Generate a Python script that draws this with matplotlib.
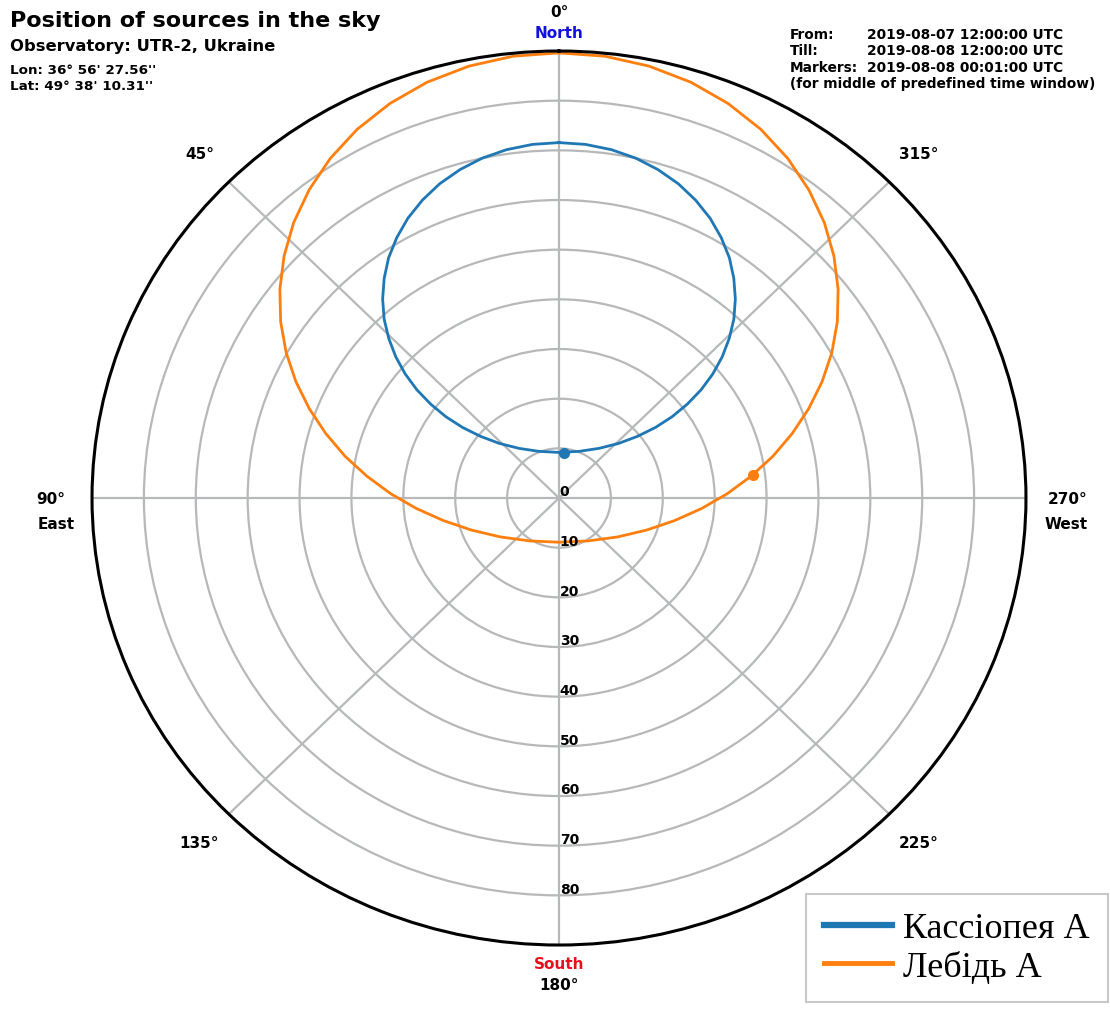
import numpy as np
import matplotlib.pyplot as plt
from matplotlib.lines import Line2D

# Source tracks over the day: azimuth (deg from North, East positive) and zenith distance (deg)
cas_az = [0, 4.1, 8.2, 12.2, 16.1, 20.0, 23.7, 27.35, 30.8, 34.2, 37.3, 40.3, 43.1, 45.6, 47.9, 49.9,
          51.5, 52.6, 53.1, 52.6, 50.6, 46.3, 37.7, 22.5, 0,
          -22.5, -37.7, -46.3, -50.6, -52.6, -53.1, -52.6, -51.5, -49.9, -47.9, -45.6, -43.1, -40.3,
          -37.3, -34.2, -30.8, -27.35, -23.7, -20.0, -16.1, -12.2, -8.2, -4.1, 0]
cas_zd = [71.56, 71.38, 70.86, 70.01, 68.82, 67.31, 65.50, 63.41, 61.05, 58.44, 55.60, 52.55, 49.32, 45.92, 42.39, 38.72,
          34.98, 31.13, 27.25, 23.38, 19.56, 15.92, 12.64, 10.17, 9.18,
          10.17, 12.64, 15.92, 19.56, 23.38, 27.25, 31.13, 34.98, 38.72, 42.39, 45.92, 49.32, 52.55,
          55.60, 58.44, 61.05, 63.41, 65.50, 67.31, 68.82, 70.01, 70.86, 71.38, 71.56]

cyg_az = [0, 5.7, 11.3, 16.9, 22.3, 27.65, 32.8, 37.8, 42.7, 47.4, 52.0, 56.5, 60.9, 65.2, 69.5, 73.9,
          78.5, 83.25, 88.5, 94.4, 101.5, 110.9, 124.6, 146.6, 180,
          213.4, 235.4, 249.1, 258.5, 265.6, 271.5, 276.75, 281.5, 286.1, 290.5, 294.8, 299.1, 303.5,
          308.0, 312.6, 317.3, 322.2, 327.2, 332.35, 337.7, 343.1, 348.7, 354.3, 360]
cyg_zd = [89.63, 89.39, 88.67, 87.49, 85.86, 83.81, 81.36, 78.55, 75.42, 71.98, 68.27, 64.33, 60.18, 55.86, 51.38, 46.77,
          42.05, 37.26, 32.41, 27.56, 22.75, 18.08, 13.78, 10.34, 8.90,
          10.34, 13.78, 18.08, 22.75, 27.56, 32.41, 37.26, 42.05, 46.77, 51.38, 55.86, 60.18, 64.33,
          68.27, 71.98, 75.42, 78.55, 81.36, 83.81, 85.86, 87.49, 88.67, 89.39, 89.63]

# positions at the marker time
marker_az = [-6.5, 277.1]
marker_zd = [9.2, 37.6]

source_names = ['Кассіопея А', 'Лебідь А']
source_colors = ['tab:blue', 'tab:orange']

angle_ticks = [0, 45, 90, 135, 180, 225, 270, 315]
radial_ticks = [10, 20, 30, 40, 50, 60, 70, 80]
radial_labels = ['0', '10', '20', '30', '40', '50', '60', '70', '80']

W, H = 1110, 1012
fig = plt.figure(figsize=(W / 100, H / 100), dpi=100)
ax = fig.add_axes([0.0829, 0.0652, 0.8414, 0.8834], projection='polar')
ax.set_aspect('auto')
ax.set_theta_zero_location('N')
ax.set_theta_direction(1)
ax.set_rlim(0, 90)

ax.set_xticks(np.radians(angle_ticks))
ax.set_xticklabels([])
ax.set_rgrids(radial_ticks, labels=[])
ax.grid(True, color='#b6b8ba', linewidth=1.6)
ax.spines['polar'].set_linewidth(2.2)
ax.spines['polar'].set_color('black')

# tracks and markers
ax.plot(np.radians(cas_az), cas_zd, color=source_colors[0], lw=2)
ax.plot(np.radians(cyg_az), cyg_zd, color=source_colors[1], lw=2)
for az, zd, c in zip(marker_az, marker_zd, source_colors):
    ax.plot(np.radians(az), zd, 'o', color=c, ms=7)

# azimuth labels
for a in angle_ticks:
    ax.text(np.radians(a), 98, f'{a}°', ha='center', va='center',
            fontsize=11, fontweight='bold', clip_on=False)
ax.text(0, 93.8, 'North', ha='center', va='center', fontsize=11,
        fontweight='bold', color='#1010e0', clip_on=False)
ax.text(np.pi, 93.8, 'South', ha='center', va='center', fontsize=11,
        fontweight='bold', color='#e8101c', clip_on=False)
for a, name, dx in [(90, 'East', 4), (270, 'West', -1)]:
    ax.annotate(name, xy=(np.radians(a), 98), xytext=(dx, -18), textcoords='offset points',
                ha='center', va='center', fontsize=11, fontweight='bold', annotation_clip=False)

# zenith distance labels along the south direction
for r, lab in zip([0] + radial_ticks, radial_labels):
    ax.annotate(lab, xy=(np.pi, r), xytext=(0.5, 2), textcoords='offset points',
                ha='left', va='baseline', fontsize=10, fontweight='bold', annotation_clip=False)

def px_text(x, y, s, **kw):
    fig.text(x / W, 1 - y / H, s, va='baseline', fontweight='bold', **kw)

px_text(10, 27, 'Position of sources in the sky', fontsize=16)
px_text(10, 51.5, 'Observatory: UTR-2, Ukraine', fontsize=11.8)
px_text(10, 74.5, "Lon: 36° 56' 27.56''", fontsize=9.7)
px_text(10, 89.5, "Lat: 49° 38' 10.31''", fontsize=9.7)

info_keys = ['From:', 'Till:', 'Markers:']
info_vals = ['2019-08-07 12:00:00 UTC', '2019-08-08 12:00:00 UTC', '2019-08-08 00:01:00 UTC']
for i, (k, v) in enumerate(zip(info_keys, info_vals)):
    px_text(790, 39 + 16.3 * i, k, fontsize=9.9)
    px_text(867, 39 + 16.3 * i, v, fontsize=9.9)
px_text(790, 88, '(for middle of predefined time window)', fontsize=9.9)

handles = [Line2D([], [], color=source_colors[0], lw=4.5),
           Line2D([], [], color=source_colors[1], lw=3.5)]
leg = fig.legend(handles, source_names, loc='lower right', bbox_to_anchor=(0.998, 0.009),
                 prop={'family': 'Liberation Serif', 'size': 26}, handlelength=1.9,
                 handletextpad=0.3, labelspacing=0.15, borderpad=0.5, borderaxespad=0,
                 framealpha=1, fancybox=False)
leg.get_frame().set_edgecolor('#c8c8c8')
leg.get_frame().set_linewidth(1.5)

fig.savefig('out.png', dpi=100)
